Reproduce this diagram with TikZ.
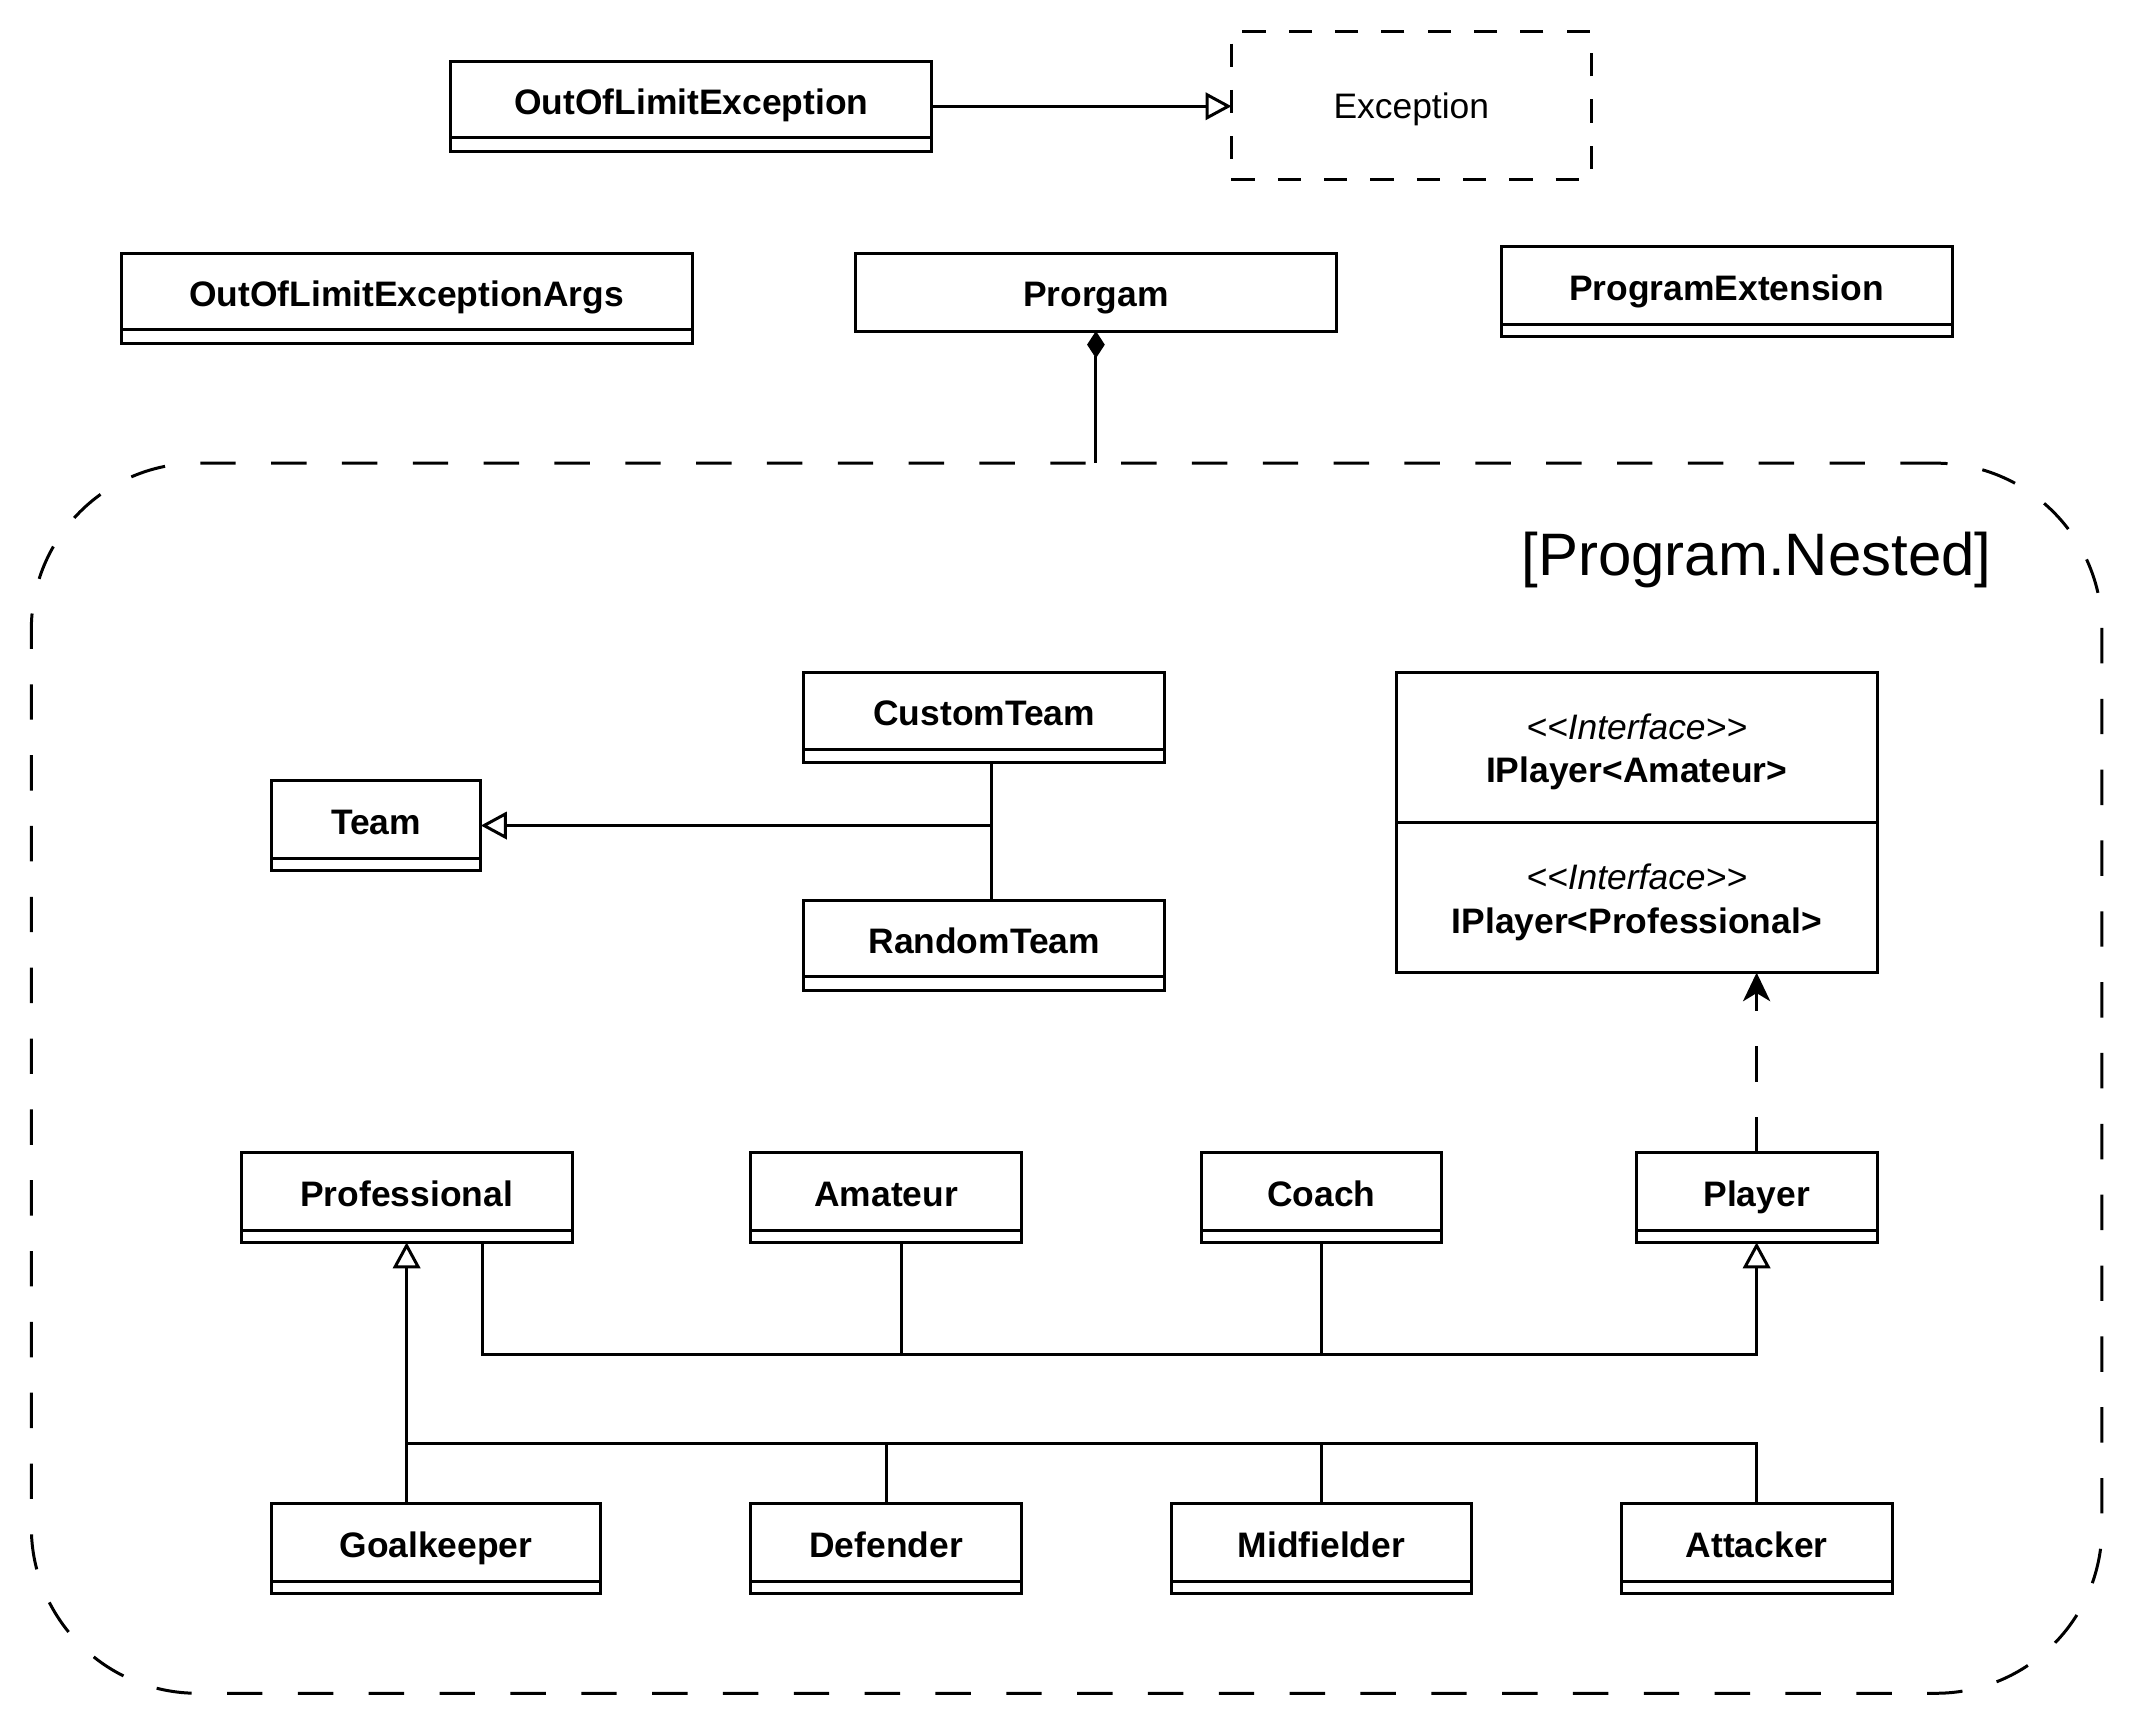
\documentclass[tikz,border=0pt]{standalone}
\usepackage{fontspec}
\setmainfont{Liberation Sans}
\usetikzlibrary{arrows.meta}
\tikzset{
  lw/.style={line width=2.2pt},
  classbox/.style={draw, lw, inner sep=0pt, outer sep=0pt},
  classname/.style={font=\fontsize{26}{32}\selectfont\bfseries, inner sep=0pt, text height=18.6pt, text depth=0pt},
  iface/.style={align=center, font=\fontsize{26}{32}\selectfont, inner sep=0pt},
  conn/.style={lw},
  gen/.style={-{Triangle[open,length=19pt,width=20pt]}},
  real/.style={dash pattern=on 26pt off 26pt, -{Stealth[length=21pt,width=20pt,inset=6pt]}},
  comp/.style={{Diamond[length=20pt,width=13pt]}-},
}
\newcommand{\umlclass}[7]{%
  \node[classbox, minimum width={#4-#2}, minimum height={#6-#3}, anchor=north west] (#1) at (#2,#3) {};
  \node[classname] (#1-n) at ({(#2+#4)/2},{(#3+#5)/2+1.5}) {#7};
  \draw[lw] (#2,#5) -- (#4,#5);
}
\begin{document}
\begin{tikzpicture}[x=1pt,y=-1pt]
\useasboundingbox (0,0) rectangle (1568,1268);

% top row
\umlclass{ole}{331}{45}{684}{101}{111}{OutOfLimitException}
\node[draw, lw, dash pattern=on 17pt off 17pt, minimum width=264pt, minimum height=109pt,
      anchor=north west, inner sep=0pt, outer sep=0pt] (exc) at (904,23) {};
\node[inner sep=0pt, text height=18.6pt, text depth=0pt, font=\fontsize{26}{32}\selectfont] (exc-n) at (1036,78) {Exception};
\umlclass{olea}{89}{186}{508}{242}{252}{OutOfLimitExceptionArgs}
\node[classbox, minimum width=353pt, minimum height=57pt, anchor=north west] (prog) at (628,186) {};
\node[classname] (prog-n) at (804.5,216) {Prorgam};
\umlclass{pext}{1102}{181}{1433}{238}{247}{ProgramExtension}

% container
\node[draw, lw, dash pattern=on 26pt off 26pt, rounded corners=122pt, minimum width=1520pt, minimum height=903pt,
      anchor=north west, inner sep=0pt, outer sep=0pt] (nested) at (23,340) {};
\node[anchor=east, inner sep=0pt, font=\fontsize{44}{50}\selectfont] (nestedlbl) at (1462,411) {[Program.Nested]};

% teams
\umlclass{ct}{590}{494}{855}{550}{560}{CustomTeam}
\umlclass{rt}{590}{661}{855}{717}{727}{RandomTeam}
\umlclass{team}{199}{573}{353}{630}{639}{Team}

% interface
\node[classbox, minimum width=353pt, minimum height=220pt, anchor=north west] (ip) at (1025,494) {};
\draw[lw] (ip.west |- 0,604) -- (ip.east |- 0,604);
\node[iface] (ipa) at (1201.5,552) {\textit{<\kern0pt<Interface>\kern0pt>}\\\textbf{IPlayer<Amateur>}};
\node[iface] (ipp) at (1201.5,662.5) {\textit{<\kern0pt<Interface>\kern0pt>}\\\textbf{IPlayer<Professional>}};

% players
\umlclass{player}{1201}{846}{1378}{903}{912}{Player}
\umlclass{prof}{177}{846}{420}{903}{912}{Professional}
\umlclass{am}{551}{846}{750}{903}{912}{Amateur}
\umlclass{coach}{882}{846}{1058}{903}{912}{Coach}
\umlclass{gk}{199}{1104}{441}{1161}{1170}{Goalkeeper}
\umlclass{df}{551}{1104}{750}{1161}{1170}{Defender}
\umlclass{mf}{860}{1104}{1080}{1161}{1170}{Midfielder}
\umlclass{att}{1190}{1104}{1389}{1161}{1170}{Attacker}

% connectors
\draw[conn, gen] (ole.east) -- (ole.east -| exc.west);
\draw[conn, comp] (prog.south) -- (prog.south |- nested.north);

\coordinate (tj) at (728,606);
\draw[conn] (728,0 |- ct.south) -- (728,0 |- rt.north);
\draw[conn, gen] (tj) -- (tj -| team.east);

\draw[conn, real] (player.north) -- (player.north |- ip.south);

\coordinate (pj) at (1289.5,994);
\draw[conn, gen] (354,0 |- prof.south) |- (pj) -- (player.south);
\draw[conn] (662,0 |- am.south) -- (662,0 |- pj);
\draw[conn] (coach.south) -- (coach.south |- pj);

\coordinate (gj) at (298.5,1060);
\draw[conn, gen] (gk.north -| gj) -- (prof.south);
\draw[conn] (att.north) |- (gj);
\draw[conn] (df.north) -- (df.north |- gj);
\draw[conn] (mf.north) -- (mf.north |- gj);
\end{tikzpicture}
\end{document}
